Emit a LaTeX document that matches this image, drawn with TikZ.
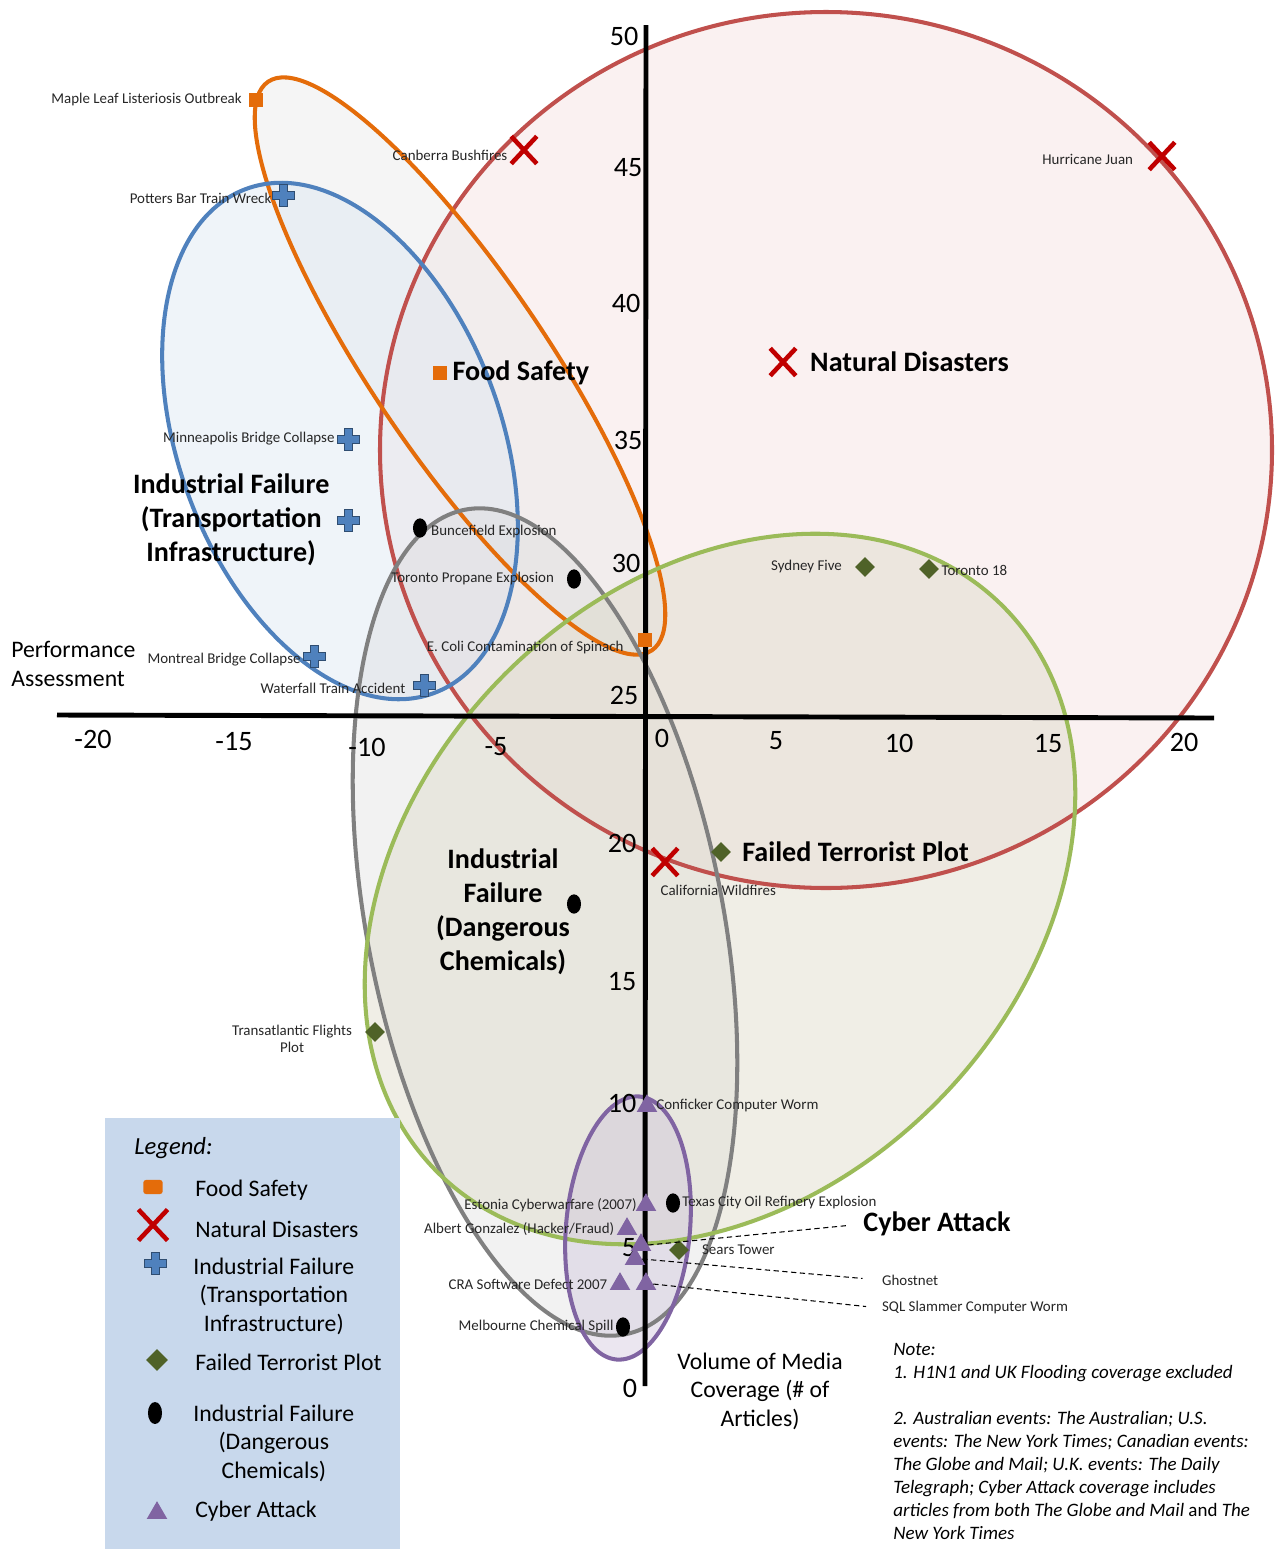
\documentclass[tikz,border=0pt]{standalone}
\usepackage{fontspec}
\setmainfont{Carlito}
\usepackage{tikz}
\usetikzlibrary{positioning}
\usetikzlibrary{shapes.geometric, shapes.misc}

\definecolor{ndred}{RGB}{192,80,77}
\definecolor{ndfill}{RGB}{242,220,219}
\definecolor{xred}{RGB}{192,0,0}
\definecolor{fsorange}{RGB}{228,108,10}
\definecolor{fsfill}{RGB}{235,235,235}
\definecolor{ifblue}{RGB}{79,129,189}
\definecolor{iffill}{RGB}{220,230,242}
\definecolor{dcgray}{RGB}{128,128,128}
\definecolor{dcfill}{RGB}{217,217,217}
\definecolor{ftgreen}{RGB}{155,187,89}
\definecolor{ftfill}{RGB}{221,217,200}
\definecolor{ftdark}{RGB}{79,98,40}
\definecolor{cypurple}{RGB}{128,100,162}
\definecolor{cyfill}{RGB}{204,193,218}
\definecolor{legfill}{RGB}{200,216,236}

\tikzset{
    ptlabel/.style={
        font=\fontsize{8.5}{10}\selectfont,
        text=black!85,
        inner sep=1pt
    },
    catlabel/.style={
        font=\fontsize{16}{19.4}\selectfont\bfseries,
        align=center,
        inner sep=0pt
    },
    ticklabel/.style={font=\fontsize{16}{18}\selectfont, inner sep=0pt},
    axistitle/.style={font=\fontsize{13.5}{16.2}\selectfont, inner sep=0pt},
    legtext/.style={font=\fontsize{13.5}{16.2}\selectfont, inner sep=0pt, anchor=west},
    fsmark/.style={rectangle, fill=fsorange, minimum width=7.5pt, minimum height=7.5pt, inner sep=0pt},
    ndmark/.style={cross out, draw=xred, line width=2.6pt, minimum width=12pt, minimum height=13pt, inner sep=0pt},
    ftmark/.style={diamond, fill=ftdark, minimum size=11.5pt, inner sep=0pt},
    dcmark/.style={ellipse, fill=black, minimum width=8pt, minimum height=11pt, inner sep=0pt},
    cymark/.style={regular polygon, regular polygon sides=3, fill=cypurple, minimum size=13.5pt, inner sep=0pt},
    plusmark/.pic={
        \path[fill=ifblue, draw=ifblue!60!black, line width=0.5pt]
            (-4,-11) -- (4,-11) -- (4,-4) -- (11,-4) -- (11,4) -- (4,4) -- (4,11)
            -- (-4,11) -- (-4,4) -- (-11,4) -- (-11,-4) -- (-4,-4) -- cycle;
        \node (-m) [minimum size=12.5pt, inner sep=0pt] {};
    }
}

\begin{document}
\begin{tikzpicture}[
    x=0.02cm, y=-0.02cm,
    leader/.style={line width=0.6pt, dash pattern=on 3pt off 2pt},
    axisline/.style={line width=2.8pt, draw=black}
]
    \useasboundingbox (0,0) rectangle (1276,1549);

    % Clusters: fills first, then outlines
    \foreach \cx/\cy/\rx/\ry/\rot/\col/\op in {826/450/446/438/0/nd/0.4, 460/366/343/88/-56/fs/0.5, 340/441/269/161/-69.5/if/0.45, 545/922/420/178/-79/dc/0.35, 720/889/400/304/45/ft/0.45, 628/1228/62/132/-5/cy/0.4}
        \fill[\col fill, fill opacity=\op, rotate around={\rot:(\cx,\cy)}] (\cx,\cy) ellipse [x radius=\rx, y radius=\ry];
    \foreach \cx/\cy/\rx/\ry/\rot/\col in {826/450/446/438/0/ndred, 460/366/343/88/-56/fsorange, 340/441/269/161/-69.5/ifblue, 545/922/420/178/-79/dcgray, 720/889/400/304/45/ftgreen, 628/1228/62/132/-5/cypurple}
        \draw[\col, line width=2.3pt, rotate around={\rot:(\cx,\cy)}] (\cx,\cy) ellipse [x radius=\rx, y radius=\ry];

    % Axes
    \coordinate (xl) at (57,715);
    \coordinate (xr) at (1214,718);
    \coordinate (yt) at (646,25);
    \coordinate (yb) at (645,1386);
    \draw[axisline] (xl) -- (xr);
    \draw[axisline] (yt) -- (yb);

    \foreach \v/\px/\py [count=\i] in {-20/93/739, -15/234/742, -10/367/747, -5/496/747, 0/662/738, 5/776/741, 10/899/743, 15/1048/744, 20/1184/742}
        \node (xtick\i) [ticklabel] at (\px,\py) {\v};
    \foreach \v/\px/\py [count=\i] in {50/624/36, 45/628/168, 40/626/303, 35/628/440, 30/626/563, 25/624/695, 20/622/843, 15/622/982, 10/622/1103, 5/629/1248, 0/630/1388}
        \node (ytick\i) [ticklabel] at (\px,\py) {\v};

    \node (perfT) [axistitle, align=left, anchor=west] at (11,664) {Performance\\Assessment};
    \node (volT) [axistitle, align=center] at (760,1391) {Volume of Media\\Coverage (\# of\\Articles)};

    % Legend
    \node (legend) [fill=legfill, inner sep=0pt, minimum width=5.9cm, minimum height=8.62cm, anchor=north west] at (105,1118) {};
    \node (legtitle) [legtext, font=\fontsize{14}{16}\selectfont\itshape] at (134,1148) {Legend:};
    \node (lgfs) [fsmark, rounded corners=1.5pt, minimum width=11pt, minimum height=8pt] at (153,1187) {};
    \node (lgfsT) [legtext] at (195,1190) {Food Safety};
    \node (lgnd) [ndmark, minimum width=14pt, minimum height=15pt] at (153,1225) {};
    \node (lgndT) [legtext] at (195,1229) {Natural Disasters};
    \pic (lgif) at (155,1263) {plusmark};
    \node (lgifT) [legtext, align=center] at (193,1296) {Industrial Failure\\(Transportation\\Infrastructure)};
    \node (lgft) [ftmark, minimum size=12.5pt] at (157,1360) {};
    \node (lgftT) [legtext] at (195,1362) {Failed Terrorist Plot};
    \node (lgdc) [dcmark, minimum height=12.5pt] at (155,1413) {};
    \node (lgdcT) [legtext, align=center] at (193,1443) {Industrial Failure\\(Dangerous\\Chemicals)};
    \node (lgcy) [cymark] at (157,1513) {};
    \node (lgcyT) [legtext] at (195,1511) {Cyber Attack};

    % Food safety
    \node (maple) [fsmark] at (256,100) {};
    \node (mapleT) [ptlabel, left=3pt of maple] {Maple Leaf Listeriosis Outbreak};
    \node (ecoli) [fsmark] at (645,640) {};
    \node (ecoliT) [ptlabel, left=7pt of ecoli, yshift=-4pt] {E. Coli Contamination of Spinach};
    \node (fsavg) [fsmark] at (440,373) {};
    \node (fsT) [catlabel, right=3pt of fsavg] {Food Safety};

    % Natural disasters
    \node (canberra) [ndmark] at (524,150) {};
    \node (canberraT) [ptlabel, left=1pt of canberra, yshift=-3pt] {Canberra Bushfires};
    \node (juan) [ndmark] at (1162,156) {};
    \node (juanT) [ptlabel, left=8pt of juan, yshift=-2pt] {Hurricane Juan};
    \node (calif) [ndmark] at (665,862) {};
    \node (califT) [ptlabel, below right=4pt and -11pt of calif] {California Wildfires};
    \node (ndavg) [ndmark] at (783,362) {};
    \node (ndT) [catlabel, right=8pt of ndavg] {Natural Disasters};

    % Transportation infrastructure
    \pic (potters) at (283,195) {plusmark};
    \node (pottersT) [ptlabel, left=-1pt of potters-m, yshift=-2pt] {Potters Bar Train Wreck};
    \pic (minneap) at (348,439) {plusmark};
    \node (minneapT) [ptlabel, left=0pt of minneap-m] {Minneapolis Bridge Collapse};
    \pic (montreal) at (314,656) {plusmark};
    \node (montrealT) [ptlabel, left=0pt of montreal-m, yshift=-2pt] {Montreal Bridge Collapse};
    \pic (waterfall) at (424,685) {plusmark};
    \node (waterfallT) [ptlabel, left=3pt of waterfall-m, yshift=-2pt] {Waterfall Train Accident};
    \pic (iftavg) at (348,520) {plusmark};
    \node (iftT) [catlabel, left=4pt of iftavg-m] {Industrial Failure\\(Transportation\\Infrastructure)};

    % Dangerous chemicals
    \node (buncef) [dcmark] at (420,528) {};
    \node (buncefT) [ptlabel, right=1pt of buncef, yshift=-2pt] {Buncefield Explosion};
    \node (propane) [dcmark] at (574,579) {};
    \node (propaneT) [ptlabel, left=6pt of propane] {Toronto Propane Explosion};
    \node (texas) [dcmark] at (673,1203) {};
    \node (texasT) [ptlabel, right=0pt of texas] {Texas City Oil Refinery Explosion};
    \node (melb) [dcmark] at (623,1327) {};
    \node (melbT) [ptlabel, left=0pt of melb] {Melbourne Chemical Spill};
    \node (idcavg) [dcmark] at (574,904) {};
    \node (idcT) [catlabel] at (503,912) {Industrial\\Failure\\(Dangerous\\Chemicals)};

    % Terrorist plots
    \node (sydney) [ftmark] at (865,567) {};
    \node (sydneyT) [ptlabel, left=6pt of sydney] {Sydney Five};
    \node (tor18) [ftmark] at (929,569) {};
    \node (tor18T) [ptlabel, right=0pt of tor18, yshift=-1pt] {Toronto 18};
    \node (transat) [ftmark] at (375,1032) {};
    \node (transatT) [ptlabel, align=center, left=6pt of transat, yshift=-4pt] {Transatlantic Flights\\Plot};
    \node (sears) [ftmark] at (679,1250) {};
    \node (searsT) [ptlabel, right=6pt of sears] {Sears Tower};
    \node (ftavg) [ftmark] at (721,852) {};
    \node (ftT) [catlabel, right=6pt of ftavg] {Failed Terrorist Plot};

    % Cyber attacks
    \node (conficker) [cymark] at (647,1106) {};
    \node (confickerT) [ptlabel, right=0pt of conficker] {Conficker Computer Worm};
    \node (estonia) [cymark] at (646,1205) {};
    \node (estoniaT) [ptlabel, left=0pt of estonia] {Estonia Cyberwarfare (2007)};
    \node (gonzalez) [cymark] at (627,1229) {};
    \node (gonzalezT) [ptlabel, left=2pt of gonzalez] {Albert Gonzalez (Hacker/Fraud)};
    \node (cyavg) [cymark] at (641,1245) {};
    \node (ghost) [cymark] at (635,1259) {};
    \node (cra) [cymark] at (620,1284) {};
    \node (craT) [ptlabel, left=2pt of cra] {CRA Software Defect 2007};
    \node (sqlsl) [cymark] at (646,1284) {};
    \node (cyT) [catlabel] at (937,1224) {Cyber Attack};
    \node (ghostT) [ptlabel, anchor=west] at (880,1280) {Ghostnet};
    \node (sqlslT) [ptlabel, anchor=west] at (880,1308) {SQL Slammer Computer Worm};
    \draw[leader, shorten >=8pt] (cyavg.east) -- (cyT.west);
    \draw[leader, shorten >=10pt] (ghost.east) -- (ghostT.west);
    \draw[leader, shorten >=8pt] (sqlsl.east) -- (sqlslT.west);

    % Note
    \node (note) [anchor=north west, align=left, inner sep=0pt, font=\fontsize{10.8}{13.1}\selectfont\itshape] at (893,1343)
        {Note:\\1. H1N1 and UK Flooding coverage excluded\\[13.1pt]2. Australian events: The Australian; U.S.\\events: The New York Times; Canadian events:\\The Globe and Mail; U.K. events: The Daily\\Telegraph; Cyber Attack coverage includes\\articles from both The Globe and Mail {\upshape and} The\\New York Times};

\end{tikzpicture}
\end{document}
